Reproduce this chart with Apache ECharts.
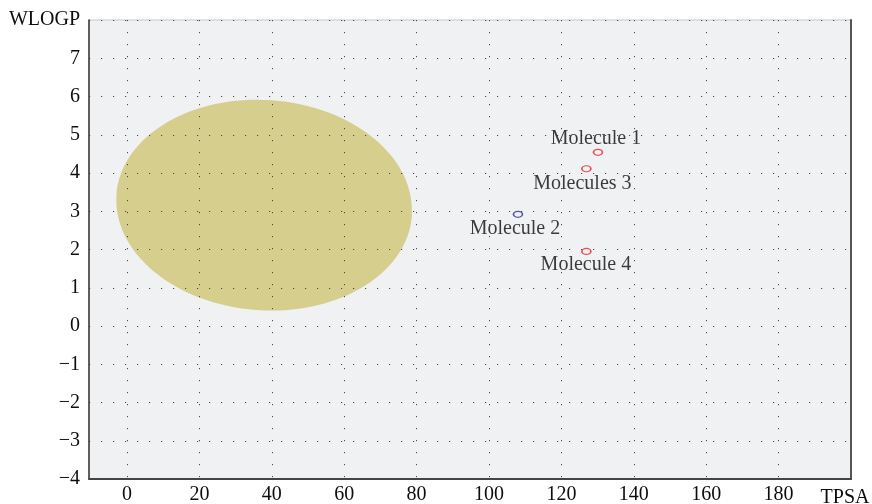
<!DOCTYPE html>
<html>
<head>
<meta charset="utf-8">
<title>BOILED-Egg: WLOGP vs TPSA</title>
<script src="https://cdn.jsdelivr.net/npm/echarts@6/dist/echarts.min.js"></script>
<style>
  html, body { margin: 0; padding: 0; background: #ffffff; }
  #chart { width: 872px; height: 504px; }
</style>
</head>
<body>
<div id="chart"></div>
<script>
// Tick values for both axes
const xTicks = [0, 20, 40, 60, 80, 100, 120, 140, 160, 180, 200];
const yTicks = [-4, -3, -2, -1, 0, 1, 2, 3, 4, 5, 6, 7, 8];
const xName = 'TPSA';
const yName = 'WLOGP';

// Molecules: name, TPSA, WLOGP
const moleculeNames = ['Molecule 1', 'Molecule 2', 'Molecules 3', 'Molecule 4'];
const moleculeTPSA = [130.1, 108.0, 126.9, 126.9];
const moleculeWLOGP = [4.54, 2.92, 4.11, 1.95];
const moleculeColors = ['#e8262a', '#2e3192', '#e8262a', '#e8262a'];

// Absorption region: centre TPSA, centre WLOGP, radius TPSA, radius WLOGP, tilt (deg)
const regionEllipse = [37.9, 3.16, 40.9, 2.75, -4];

const serif = "'Liberation Serif', 'DejaVu Serif', serif";
const textColor = '#0d0d0d';
const labelOffsets = [[-2, -13.5], [-3, 14], [-4, 14.5], [-0.5, 13.5]];

const chart = echarts.init(document.getElementById('chart'), null, { renderer: 'canvas' });

const gridDots = { show: true, lineStyle: { color: '#4a4a4a', width: 1, type: [1.2, 10.8] } };

chart.setOption({
  animation: false,
  backgroundColor: '#ffffff',
  grid: {
    left: 89, right: 21, top: 20, bottom: 25,
    outerBoundsMode: 'none', containLabel: false,
    show: true, backgroundColor: '#f0f1f3', borderColor: '#c8c8c8', borderWidth: 1
  },
  xAxis: {
    type: 'value', min: -10.5, max: 200, z: 5,
    axisLine: { show: true, onZero: false, lineStyle: { color: '#444', width: 2 } },
    axisTick: { show: false, customValues: xTicks },
    axisLabel: {
      customValues: xTicks, margin: 6, color: textColor, fontFamily: serif, fontSize: 20,
      formatter: v => (v === 200 ? '{n|' + xName + '}' : String(v)),
      rich: { n: { fontFamily: serif, fontSize: 20, color: textColor, padding: [3, 12, 0, 0], align: 'center' } }
    },
    splitLine: gridDots
  },
  yAxis: [{
    type: 'value', min: -4, max: 8, interval: 1, z: 5,
    axisLine: { show: true, onZero: false, lineStyle: { color: '#333', width: 1.5 } },
    axisTick: { show: false },
    axisLabel: {
      margin: 9, color: textColor, fontFamily: serif, fontSize: 20,
      formatter: v => (v === 8 ? yName : String(v).replace('-', '\u2212'))
    },
    splitLine: gridDots
  }, {
    type: 'value', min: -4, max: 8, position: 'right', z: 5,
    axisLine: { show: true, onZero: false, lineStyle: { color: '#555', width: 2 } },
    axisTick: { show: false }, axisLabel: { show: false }, splitLine: { show: false }
  }],
  series: [{
    type: 'custom',
    z: 1,
    silent: true,
    data: [regionEllipse],
    renderItem: function (params, api) {
      const c = api.coord([api.value(0), api.value(1)]);
      const s = api.size([api.value(2), api.value(3)]);
      return {
        type: 'ellipse',
        x: c[0], y: c[1],
        rotation: api.value(4) * Math.PI / 180,
        shape: { cx: 0, cy: 0, rx: s[0], ry: s[1] },
        style: { fill: '#d5ce8d', stroke: null }
      };
    }
  }, {
    type: 'scatter',
    z: 6,
    symbol: 'circle',
    symbolSize: [9, 6],
    data: moleculeNames.map((n, i) => ({
      name: n,
      value: [moleculeTPSA[i], moleculeWLOGP[i]],
      itemStyle: { color: 'rgba(0,0,0,0)', borderColor: moleculeColors[i], borderWidth: 1.4 },
      label: { offset: labelOffsets[i] }
    })),
    label: {
      show: true, position: 'inside', formatter: '{b}',
      fontFamily: serif, fontSize: 20, color: textColor
    }
  }]
});
</script>
</body>
</html>
